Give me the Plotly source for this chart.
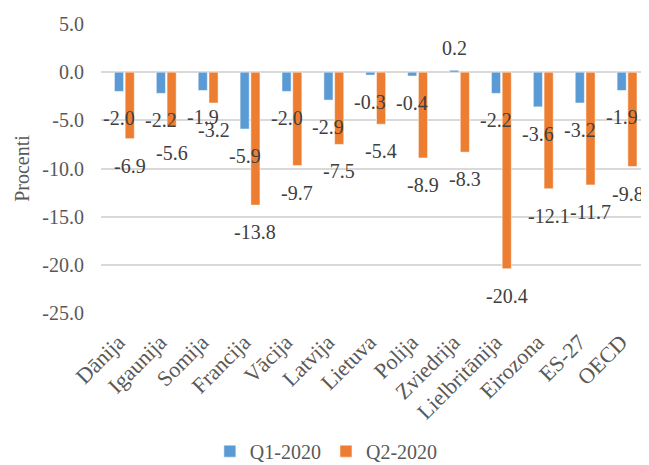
import plotly.graph_objects as go

countries = ['Dānija', 'Igaunija', 'Somija', 'Francija', 'Vācija', 'Latvija', 'Lietuva',
             'Polija', 'Zviedrija', 'Lielbritānija', 'Eirozona', 'ES-27', 'OECD']
q1_2020 = [-2.0, -2.2, -1.9, -5.9, -2.0, -2.9, -0.3, -0.4, 0.2, -2.2, -3.6, -3.2, -1.9]
q2_2020 = [-6.9, -5.6, -3.2, -13.8, -9.7, -7.5, -5.4, -8.9, -8.3, -20.4, -12.1, -11.7, -9.8]
y_ticks = [5, 0, -5, -10, -15, -20, -25]

BLUE = '#5B9BD5'
ORANGE = '#ED7D31'
FONT = 'Liberation Serif, Times New Roman, serif'
FS = 20
BARGAP = 0.487

fig = go.Figure()
for name, vals, col in [('Q1-2020', q1_2020, BLUE), ('Q2-2020', q2_2020, ORANGE)]:
    fig.add_trace(go.Bar(x=countries, y=vals, name=name, marker_color=col,
                         marker_line=dict(color='white', width=0.5)))

# data labels below (or above) each bar end, Excel style
off = (1 - BARGAP) / 4
for sign, vals in [(-1, q1_2020), (1, q2_2020)]:
    for i, v in enumerate(vals):
        fig.add_annotation(x=i + sign * off, y=v, text=f'{v:.1f}', showarrow=False,
                           yanchor='middle', yshift=-27 if v < 0 else 22,
                           xshift=-4 if i == len(vals) - 1 and sign > 0 else 0,
                           font=dict(family=FONT, size=FS, color='#404040'))

# page body keeps its default 8px margin, so the figure is 8px smaller than the window
fig.update_layout(
    width=641, height=457,
    margin=dict(l=93, r=1, t=16, b=152, autoexpand=False),
    barmode='group', bargap=BARGAP, bargroupgap=0.15,
    plot_bgcolor='white', paper_bgcolor='white',
    font=dict(family=FONT, size=FS, color='#595959'),
    showlegend=True,
    legend=dict(orientation='h', x=0.412, y=-0.478, itemwidth=30,
                xanchor='center', yanchor='middle', font=dict(size=FS, color='#595959'),
                tracegroupgap=0),
)
fig.update_yaxes(range=[-25, 5], tickvals=y_ticks, ticktext=[f'{v:.1f}' for v in y_ticks],
                 showgrid=True, gridcolor='#D9D9D9', gridwidth=1.5, zeroline=False,
                 showline=False, ticklabelstandoff=16, automargin=False,
                 title=dict(text='Procenti', standoff=7, font=dict(size=FS, color='#595959')))
fig.update_xaxes(tickangle=-45, showline=False, showgrid=False, ticklabelstandoff=11,
                 ticklabelshift=-6, automargin=False, tickfont=dict(size=22, color='#595959'))

fig.write_html('out.html')
